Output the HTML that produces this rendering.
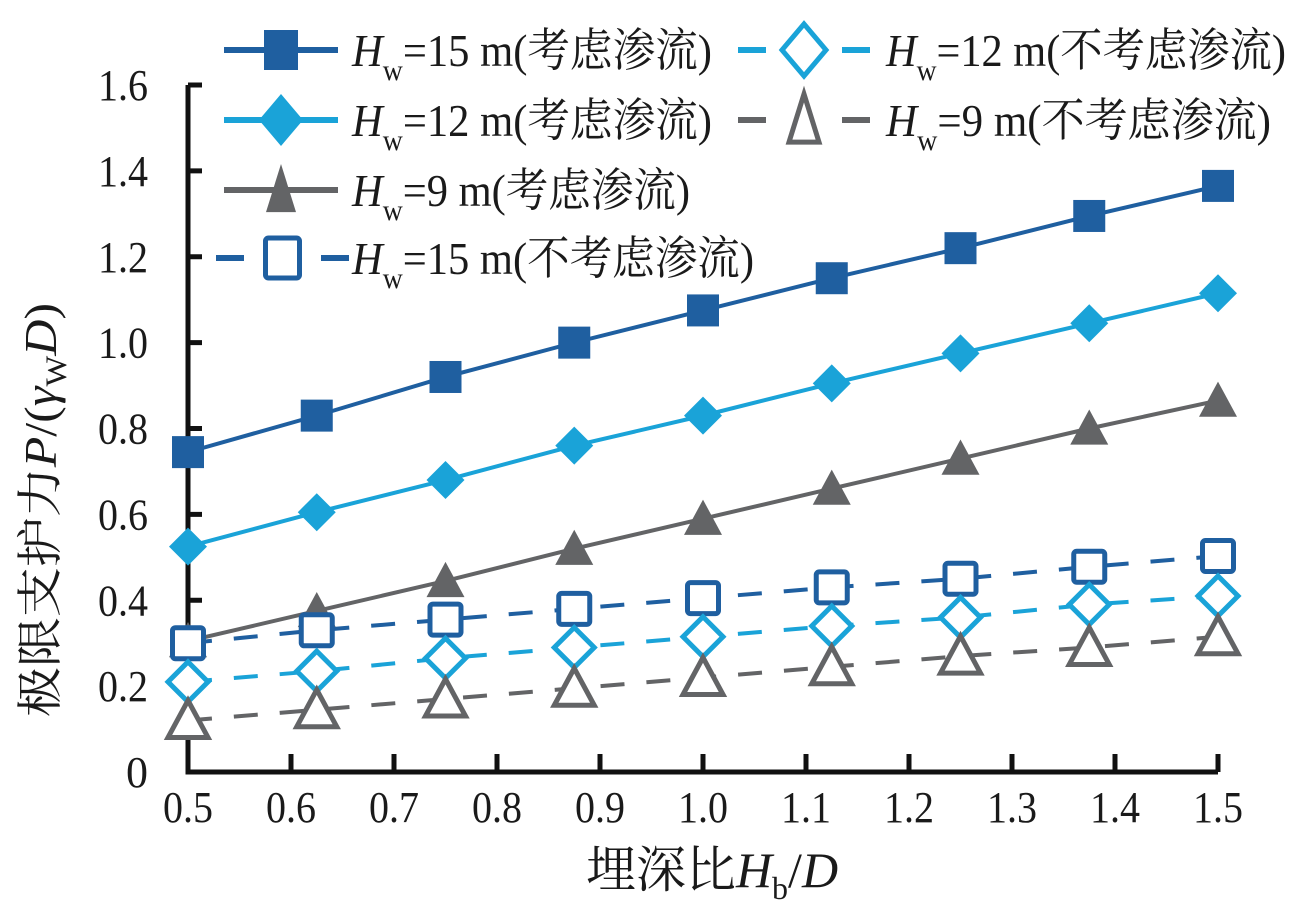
<!DOCTYPE html>
<html><head><meta charset="utf-8"><style>
html,body{margin:0;padding:0;background:#fff;}
svg{display:block;}
text{font-family:"Liberation Serif","Noto Serif CJK SC",serif;fill:#1a1a1a;}
</style></head><body>
<svg id="chart" width="1291" height="906" viewBox="0 0 1291 906" xmlns="http://www.w3.org/2000/svg">
<g id="axes"></g>
<g id="series"></g>
<g id="legend"></g>
<text x="712" y="887" font-size="50" text-anchor="middle">埋深比<tspan font-style="italic">H</tspan><tspan font-size="32" dy="12">b</tspan><tspan dy="-12">/</tspan><tspan font-style="italic">D</tspan></text>
<text transform="translate(56,510) rotate(-90)" font-size="46" text-anchor="middle" textLength="414" lengthAdjust="spacingAndGlyphs">极限支护力<tspan font-style="italic">P</tspan>/(<tspan font-style="italic">γ</tspan><tspan font-size="30" dy="10">W</tspan><tspan dy="-10" font-style="italic">D</tspan>)</text>
</svg>
<script>
const xValues=[0.5,0.625,0.75,0.875,1.0,1.125,1.25,1.375,1.5];
const hw15Seep=[0.745,0.83,0.92,1.0,1.075,1.15,1.22,1.295,1.365];
const hw12Seep=[0.525,0.605,0.68,0.76,0.83,0.905,0.975,1.045,1.115];
const hw9Seep=[0.305,0.375,0.445,0.52,0.59,0.66,0.73,0.80,0.865];
const hw15NoSeep=[0.30,0.33,0.355,0.38,0.405,0.43,0.45,0.478,0.503];
const hw12NoSeep=[0.21,0.235,0.265,0.29,0.315,0.34,0.36,0.39,0.41];
const hw9NoSeep=[0.12,0.145,0.17,0.195,0.22,0.245,0.27,0.29,0.315];
const xTicks=[0.5,0.6,0.7,0.8,0.9,1.0,1.1,1.2,1.3,1.4,1.5];
const xTickLabels=["0.5","0.6","0.7","0.8","0.9","1.0","1.1","1.2","1.3","1.4","1.5"];
const yTicks=[0,0.2,0.4,0.6,0.8,1.0,1.2,1.4,1.6];
const yTickLabels=["0","0.2","0.4","0.6","0.8","1.0","1.2","1.4","1.6"];

const NS="http://www.w3.org/2000/svg";
const X0=188,X1=1218,Y0=772,Y1=85;
const xs=v=>X0+(v-0.5)/(1.0)*(X1-X0);
const ys=v=>Y0-(v/1.6)*(Y0-Y1);
function mk(tag,attrs,parent){const e=document.createElementNS(NS,tag);for(const k in attrs)e.setAttribute(k,attrs[k]);parent.appendChild(e);return e;}
const axes=document.getElementById('axes');
let l=mk('path',{d:`M${X0},${Y1} V${Y0} H${X1}`,fill:'none',stroke:'#111','stroke-width':5},axes);


xTicks.forEach((v,i)=>{
  const t=mk('line',{x1:xs(v),x2:xs(v),y1:Y0,y2:Y0-18,stroke:'#111','stroke-width':5},axes);
  
  
  const tx=mk('text',{x:xs(v),y:822,'font-size':44,'text-anchor':'middle',textLength:50,lengthAdjust:'spacingAndGlyphs'},axes);
  tx.textContent=xTickLabels[i];
  
  
});
yTicks.forEach((v,i)=>{
  const t=mk('line',{x1:X0,x2:X0+14,y1:ys(v),y2:ys(v),stroke:'#111','stroke-width':5},axes);
  
  
  const tx=mk('text',{x:148,y:ys(v)+15,'font-size':44,'text-anchor':'end'},axes);
  if(yTickLabels[i].length>1){tx.setAttribute('textLength',50);tx.setAttribute('lengthAdjust','spacingAndGlyphs');}
  tx.textContent=yTickLabels[i];
  
  
});
const DB='#1f5fa0',LB='#1aa3d8',GR='#636466';
function marker(g,type,filled,color,cx,cy){
  const f=filled?color:'#fff',sw=filled?0:5;let e;
  if(type==='sq'){const s=filled?32:31;e=mk('rect',{x:cx-s/2,y:cy-s/2,width:s,height:s,rx:filled?0:3,fill:f,stroke:color,'stroke-width':sw},g);}
  else if(type==='di'){const r=filled?19:20;e=mk('polygon',{points:`${cx},${cy-r} ${cx+r},${cy} ${cx},${cy+r} ${cx-r},${cy}`,fill:f,stroke:color,'stroke-width':sw},g);}
  else {const r=filled?19:20;e=mk('polygon',{points:`${cx},${cy-r} ${cx+r},${cy+r*0.85} ${cx-r},${cy+r*0.85}`,fill:f,stroke:color,'stroke-width':sw},g);}
  return e;
}
const seriesDefs=[
 {name:'hw15-seepage',vals:hw15Seep,c:DB,m:'sq',f:true,d:false},
 {name:'hw12-seepage',vals:hw12Seep,c:LB,m:'di',f:true,d:false},
 {name:'hw9-seepage',vals:hw9Seep,c:GR,m:'tr',f:true,d:false},
 {name:'hw15-no-seepage',vals:hw15NoSeep,c:DB,m:'sq',f:false,d:true},
 {name:'hw12-no-seepage',vals:hw12NoSeep,c:LB,m:'di',f:false,d:true},
 {name:'hw9-no-seepage',vals:hw9NoSeep,c:GR,m:'tr',f:false,d:true}];
const sg=document.getElementById('series');
seriesDefs.forEach(s=>{
  const g=mk('g',{},sg);
  
  
  const p=mk('polyline',{points:xValues.map((x,i)=>xs(x)+','+ys(s.vals[i])).join(' '),fill:'none',stroke:s.c,'stroke-width':4,'stroke-dasharray':s.d?'24 22':'none'},g);
  
  
  xValues.forEach((x,i)=>{
    const e=marker(g,s.m,s.f,s.c,xs(x),ys(s.vals[i]));
    
    
  });
});
const lg=document.getElementById('legend');
const leg=[
 [0,224,338,50,352,360,'15','(考虑渗流)'],
 [1,224,338,120,352,360,'12','(考虑渗流)'],
 [2,224,338,190,352,338,'9','(考虑渗流)'],
 [3,216,349,258,352,402,'15','(不考虑渗流)'],
 [4,738,870,50,886,400,'12','(不考虑渗流)'],
 [5,738,870,120,886,385,'9','(不考虑渗流)']];
leg.forEach(([si,x0,x1,y,tx0,tw,hv,txt])=>{
  const s=seriesDefs[si];
  const g=mk('g',{},lg);
  
  
  const cx=(x0+x1)/2;
  if(s.d){mk('line',{x1:x0,x2:x0+28,y1:y,y2:y,stroke:s.c,'stroke-width':6},g);mk('line',{x1:x1-28,x2:x1,y1:y,y2:y,stroke:s.c,'stroke-width':6},g);}
  else mk('line',{x1:x0,x2:x1,y1:y,y2:y,stroke:s.c,'stroke-width':6},g);
  const m=marker(g,s.m,s.f,s.c,cx,y);
  if(s.m==='sq'){m.setAttribute('width',34);m.setAttribute('height',40);m.setAttribute('x',cx-17);m.setAttribute('y',y-20);}
  else {const r=s.f?26:26;const w=s.m==='di'?22:20;
    if(s.m==='di')m.setAttribute('points',`${cx},${y-r} ${cx+w},${y} ${cx},${y+r} ${cx-w},${y}`);
    else m.setAttribute('points',`${cx},${y-r} ${cx+w*0.75},${y+r*0.85} ${cx-w*0.75},${y+r*0.85}`);}
  const t=mk('text',{x:tx0,y:y+16,'font-size':46,textLength:tw,lengthAdjust:'spacingAndGlyphs'},g);
  t.innerHTML=`<tspan font-style="italic">H</tspan><tspan font-size="30" dy="14">w</tspan><tspan dy="-14">=${hv} m${txt}</tspan>`;
  
  
});
</script>
</body></html>
